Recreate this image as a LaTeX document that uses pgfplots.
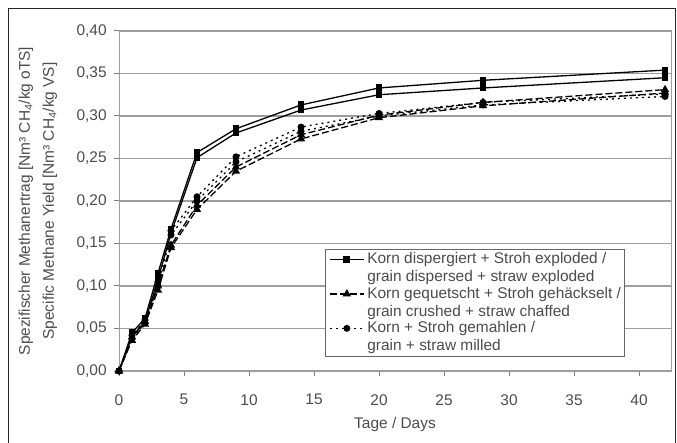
\documentclass[border=0pt]{standalone}
\usepackage{fontspec}
\setmainfont{Liberation Sans}
\usepackage{pgfplots}
\pgfplotsset{compat=1.18}
\definecolor{txt}{gray}{0.3}
\definecolor{gridc}{gray}{0.62}

\begin{document}
\fontsize{15.5}{18}\selectfont
\begin{tikzpicture}
\useasboundingbox (0bp,0bp) rectangle (677bp,443bp);
\draw[black!85, line width=1bp] (8bp,-2bp) -- (8bp,434bp) -- (675bp,434bp) -- (675bp,-2bp);
\begin{axis}[
  at={(119bp,72bp)}, anchor=south west,
  scale only axis, width=552bp, height=340bp,
  xmin=0, xmax=42.46, ymin=0, ymax=0.40,
  xtick={0,5,...,40},
  ytick={0,0.05,...,0.40},
  tick align=outside, xtick pos=left, ytick pos=left,
  major tick length=5bp,
  tick style={gridc!80!black, line width=1bp},
  axis line style={gridc, line width=1bp},
  ymajorgrids, grid style={gridc, line width=1.2bp},
  /pgf/number format/assume math mode=true,
  tick label style={text=txt},
  xticklabel style={yshift=-13bp},
  yticklabel style={xshift=-2bp, /pgf/number format/.cd, fixed, fixed zerofill, precision=2, use comma},
  xlabel={Tage / Days},
  xlabel style={text=txt, at={(axis description cs:0.5,-0.156)}, anchor=center},
  ylabel={Spezifischer Methanertrag [Nm³ CH\textsubscript{4}/kg oTS]\\Specific Methane Yield [Nm³ CH\textsubscript{4}/kg VS]},
  ylabel style={text=txt, align=center, font=\fontsize{15.5}{24}\selectfont,
    at={(axis description cs:-0.147,0.5)}, anchor=center},
  legend style={at={(axis description cs:0.9167,0.041)}, anchor=south east,
    draw=black!60, line width=1bp, fill=white, inner sep=2bp,
    nodes={align=left, text=txt, inner sep=1.5bp}, row sep=0bp},
  legend cell align=left,
  legend image code/.code={
    \path[draw=none, fill=none] (0bp,-12bp) -- (38bp,12bp);
    \draw[yshift=9bp, mark repeat=2, mark phase=2, #1] plot coordinates {(2bp,0bp) (19bp,0bp) (36bp,0bp)};},
  every axis plot/.append style={black, line width=1.3bp},
]
% Korn dispergiert + Stroh exploded (two replicates)
\addplot[mark=square*, mark size=2.8bp] coordinates {
  (0,0) (1,0.045) (2,0.062) (3,0.115) (4,0.167) (6,0.257) (9,0.285) (14,0.313) (20,0.333) (28,0.342) (42,0.354)};
\addlegendentry{Korn dispergiert + Stroh exploded /\\grain dispersed + straw exploded}
\addplot[mark=square*, mark size=2.8bp, forget plot] coordinates {
  (0,0) (1,0.040) (2,0.058) (3,0.108) (4,0.162) (6,0.251) (9,0.280) (14,0.307) (20,0.325) (28,0.333) (42,0.345)};
% Korn gequetscht + Stroh gehaeckselt
\addplot[mark=triangle*, mark size=3.5bp, dash pattern=on 7bp off 3bp, mark options={solid}] coordinates {
  (0,0) (1,0.040) (2,0.058) (3,0.100) (4,0.148) (6,0.195) (9,0.240) (14,0.278) (20,0.301) (28,0.316) (42,0.331)};
\addlegendentry{Korn gequetscht + Stroh gehäckselt /\\grain crushed + straw chaffed}
\addplot[mark=triangle*, mark size=3.5bp, dash pattern=on 7bp off 3bp, mark options={solid}, forget plot] coordinates {
  (0,0) (1,0.036) (2,0.055) (3,0.095) (4,0.145) (6,0.190) (9,0.235) (14,0.273) (20,0.298) (28,0.312) (42,0.327)};
% Korn + Stroh gemahlen
\addplot[mark=*, mark size=2.8bp, dash pattern=on 2bp off 4bp, mark options={solid}] coordinates {
  (0,0) (1,0.042) (2,0.060) (3,0.105) (4,0.165) (6,0.205) (9,0.252) (14,0.287) (20,0.303) (28,0.316) (42,0.326)};
\addlegendentry{Korn + Stroh gemahlen /\\grain + straw milled}
\addplot[mark=*, mark size=2.8bp, dash pattern=on 2bp off 4bp, mark options={solid}, forget plot] coordinates {
  (0,0) (1,0.038) (2,0.057) (3,0.100) (4,0.160) (6,0.200) (9,0.246) (14,0.282) (20,0.300) (28,0.313) (42,0.323)};
\end{axis}
\end{tikzpicture}
\end{document}
